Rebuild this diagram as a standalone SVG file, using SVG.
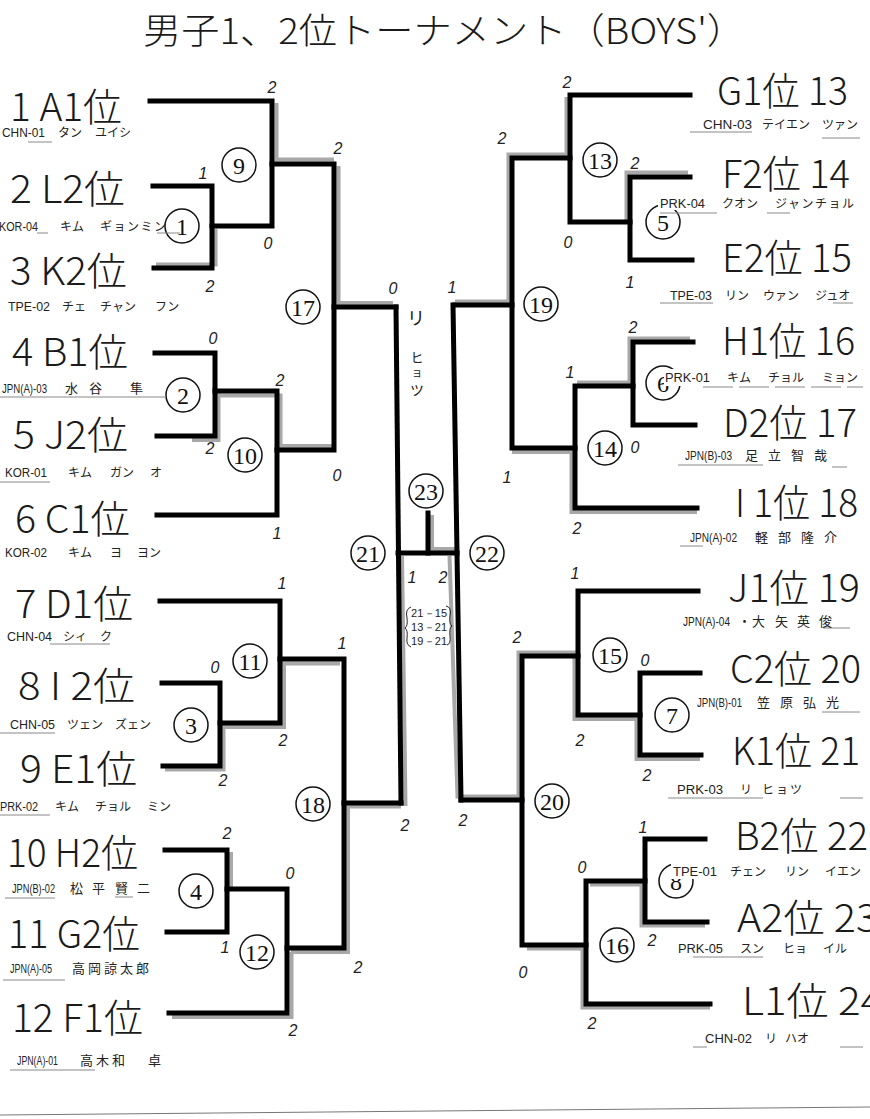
<svg xmlns="http://www.w3.org/2000/svg" width="870" height="1119" viewBox="0 0 870 1119">
<style>
.ln{fill:none;stroke:#000;stroke-width:5;stroke-linejoin:miter;stroke-linecap:square}
.hl{fill:none;stroke:#a8a8a8;stroke-width:4}
.ul{stroke:#888;stroke-width:1}
.big{font-family:"Noto Sans CJK JP","Liberation Sans",sans-serif;font-size:39px;font-weight:300;fill:#1a1a1a}
.code{font-family:"Liberation Sans","Noto Sans CJK JP",sans-serif;font-size:12.5px;fill:#222}
.nm{font-family:"Noto Sans CJK JP",sans-serif;font-size:12px;fill:#222}
.kj{font-family:"Noto Sans CJK JP",sans-serif;font-size:13px;fill:#222}
.cn circle{fill:none;stroke:#111;stroke-width:1.5}
.cn text{font-family:"Liberation Serif",serif;font-size:24px;text-anchor:middle;fill:#111}
.sc{font-family:"Liberation Sans",sans-serif;font-style:italic;font-size:16px;fill:#222;text-anchor:middle}
.sm{font-family:"Liberation Sans",sans-serif;font-size:11px;fill:#222}
.wh{fill:#fff}
</style>
<rect width="870" height="1119" fill="#fff"/>
<g id="title"><text x="143" y="44" textLength="602" lengthAdjust="spacingAndGlyphs" style="font-family:'Noto Sans CJK JP',sans-serif;font-size:36px;font-weight:300;fill:#1a1a1a">男子1、2位トーナメント（BOYS'）</text></g>

<g id="connectors">
<g id="highlights">
<path class="hl" d="M156,264.5 H215.5 V229"/>
<path class="hl" d="M276.5,103 V159.5 H334"/>
<path class="hl" d="M338.5,166 V303 H393"/>
<path class="hl" d="M192,440 H218.5 V393"/>
<path class="hl" d="M218,395.5 H280.5 V446 H334"/>
<path class="hl" d="M165,769.5 H223.5 V725"/>
<path class="hl" d="M224,727 H284 V663.5 H340"/>
<path class="hl" d="M291,952 H348 V806.5 H401"/>
<path class="hl" d="M231,852 V887"/>
<path class="hl" d="M172,1017 H291.5 V952"/>
<path class="hl" d="M402,556 L405.5,806"/>
<path class="hl" d="M449.5,556 L457.5,796.5 H518.5 V652.5 H576"/>
<path class="hl" d="M574.5,658 V719 H636.5 V759 H700"/>
<path class="hl" d="M432,515 V549 H455"/>
<path class="hl" d="M566.5,97 V154.5 H508.5 V301.5 H455"/>
<path class="hl" d="M688,172.5 H626.5 V220"/>
<path class="hl" d="M690,338.5 H629.5 V382.5 H577"/>
<path class="hl" d="M697,512 H571.5 V452 H512"/>
<path class="hl" d="M705,925.5 H641.5 V884.5 H590"/>
<path class="hl" d="M710,1007.5 H582.5 V948.5 H527"/>
</g>
<g id="lines">
<path class="ln" d="M150,101 H272 V226 H212"/>
<path class="ln" d="M153,186 H212 V268 H154"/>
<path class="ln" d="M272,164 H334 V450 H277"/>
<path class="ln" d="M155,353 H215 V436 H157"/>
<path class="ln" d="M215,391 H277 V515 H157"/>
<path class="ln" d="M334,307 H396"/>
<path class="ln" d="M160,601 H280 V723 H220"/>
<path class="ln" d="M162,683 H220 V766 H163"/>
<path class="ln" d="M280,659 H344 V948 H287"/>
<path class="ln" d="M165,850 H227 V932 H167"/>
<path class="ln" d="M227,889 H287 V1013 H169"/>
<path class="ln" d="M344,803 H401"/>
<path class="ln" d="M396,307 L401,803"/>
<path class="ln" d="M398,553 H457"/>
<path class="ln" d="M428,513 V553"/>
<path class="ln" d="M453,305 L461,800"/>
<path class="ln" d="M690,95 H570 V222 H630"/>
<path class="ln" d="M690,177 H630 V260 H692"/>
<path class="ln" d="M570,158 H512 V448 H575"/>
<path class="ln" d="M512,305 H455"/>
<path class="ln" d="M693,342 H633 V425 H695"/>
<path class="ln" d="M633,386 H575 V508 H697"/>
<path class="ln" d="M698,591 H578 V715 H640"/>
<path class="ln" d="M700,673 H640 V755 H701"/>
<path class="ln" d="M578,656 H522 V945 H586"/>
<path class="ln" d="M522,800 H461"/>
<path class="ln" d="M705,839 H645 V922 H707"/>
<path class="ln" d="M645,881 H586 V1004 H710"/>
</g>
</g>

<g id="matches" class="cn">
<g id="m1"><circle cx="182" cy="226" r="17"/><text x="182" y="234.5">1</text></g>
<g id="m2"><circle cx="183" cy="395" r="17"/><text x="183" y="403.5">2</text></g>
<g id="m3"><circle cx="191" cy="725" r="17"/><text x="191" y="733.5">3</text></g>
<g id="m4"><circle cx="196" cy="891" r="17"/><text x="196" y="899.5">4</text></g>
<g id="m5"><circle cx="663" cy="222" r="17"/><text x="663" y="230.5">5</text></g>
<g id="m6"><circle cx="663" cy="383" r="17"/><text x="663" y="391.5">6</text></g>
<g id="m7"><circle cx="672" cy="715" r="17"/><text x="672" y="723.5">7</text></g>
<g id="m8"><circle cx="676" cy="881" r="17"/><text x="676" y="889.5">8</text></g>
<g id="m9"><circle cx="239" cy="165" r="17"/><text x="239" y="173.5">9</text></g>
<g id="m10"><circle cx="245" cy="455" r="17"/><text x="245" y="463.5">10</text></g>
<g id="m11"><circle cx="250" cy="661" r="17"/><text x="250" y="669.5">11</text></g>
<g id="m12"><circle cx="257" cy="952" r="17"/><text x="257" y="960.5">12</text></g>
<g id="m13"><circle cx="600" cy="160" r="17"/><text x="600" y="168.5">13</text></g>
<g id="m14"><circle cx="605" cy="448" r="17"/><text x="605" y="456.5">14</text></g>
<g id="m15"><circle cx="610" cy="655" r="17"/><text x="610" y="663.5">15</text></g>
<g id="m16"><circle cx="617" cy="945" r="17"/><text x="617" y="953.5">16</text></g>
<g id="m17"><circle cx="303" cy="307" r="17"/><text x="303" y="315.5">17</text></g>
<g id="m18"><circle cx="313" cy="804" r="17"/><text x="313" y="812.5">18</text></g>
<g id="m19"><circle cx="541" cy="304" r="17"/><text x="541" y="312.5">19</text></g>
<g id="m20"><circle cx="552" cy="801" r="17"/><text x="552" y="809.5">20</text></g>
<g id="m21"><circle cx="368" cy="553" r="17"/><text x="368" y="561.5">21</text></g>
<g id="m22"><circle cx="487" cy="553" r="17"/><text x="487" y="561.5">22</text></g>
<g id="m23"><circle cx="426" cy="491" r="17"/><text x="426" y="499.5">23</text></g>
</g>

<g id="scores" class="sc">
<text x="272" y="93">2</text><text x="203" y="179">1</text><text x="268" y="249">0</text><text x="210" y="292">2</text>
<text x="338" y="154">2</text><text x="393" y="294">0</text><text x="213" y="344">0</text><text x="280" y="386">2</text>
<text x="210" y="454">2</text><text x="337" y="481">0</text><text x="277" y="539">1</text><text x="282" y="589">1</text>
<text x="215" y="673">0</text><text x="283" y="746">2</text><text x="342" y="649">1</text><text x="223" y="786">2</text>
<text x="405" y="831">2</text><text x="227" y="839">2</text><text x="290" y="879">0</text><text x="225" y="953">1</text>
<text x="358" y="973">2</text><text x="293" y="1036">2</text>
<text x="412" y="583">1</text><text x="443" y="583">2</text>
<text x="567" y="88">2</text><text x="502" y="144">2</text><text x="635" y="169">2</text><text x="568" y="248">0</text>
<text x="630" y="288">1</text><text x="452" y="293">1</text><text x="633" y="333">2</text><text x="570" y="378">1</text>
<text x="635" y="453">0</text><text x="507" y="483">1</text><text x="577" y="534">2</text><text x="575" y="579">1</text>
<text x="517" y="643">2</text><text x="645" y="666">0</text><text x="580" y="746">2</text><text x="647" y="781">2</text>
<text x="463" y="826">2</text><text x="643" y="833">1</text><text x="582" y="873">0</text><text x="652" y="946">2</text>
<text x="523" y="978">0</text><text x="592" y="1029">2</text>
</g>
<g id="final-detail">
<text class="sm" x="411" y="617" textLength="36">21－15</text>
<text class="sm" x="411" y="631" textLength="36">13－21</text>
<text class="sm" x="411" y="645" textLength="36">19－21</text>
<path d="M411,607 Q405,609 407,618 Q408,626 405,628 Q408,630 407,638 Q406,645 411,647" fill="none" stroke="#222" stroke-width="1"/>
<path d="M446,606 Q452,607 450,616 Q449,624 452,626 Q449,628 450,636 Q451,644 447,645" fill="none" stroke="#222" stroke-width="1"/>
<g style="font-family:'Noto Sans CJK JP',sans-serif;fill:#222;text-anchor:middle">
<text x="416" y="325" font-size="18">リ</text>
<text x="417" y="362" font-size="13">ヒ</text>
<text x="417" y="377" font-size="11">ョ</text>
<text x="417" y="395" font-size="14">ツ</text>
</g>
</g>

<g id="underlines">
<line class="ul" x1="28" y1="142" x2="52" y2="142"/><line class="ul" x1="37" y1="233" x2="48" y2="233"/><line class="ul" x1="157" y1="233" x2="180" y2="233"/>
<line class="ul" x1="0" y1="397" x2="166" y2="397"/><line class="ul" x1="0" y1="482" x2="50" y2="482"/><line class="ul" x1="50" y1="644" x2="110" y2="644"/>
<line class="ul" x1="0" y1="733" x2="55" y2="733"/><line class="ul" x1="0" y1="815" x2="50" y2="815"/><line class="ul" x1="5" y1="898" x2="55" y2="898"/>
<line class="ul" x1="115" y1="897" x2="133" y2="897"/><line class="ul" x1="3" y1="980" x2="65" y2="980"/><line class="ul" x1="10" y1="1070" x2="95" y2="1070"/>
<line class="ul" x1="690" y1="132" x2="752" y2="132"/><line class="ul" x1="822" y1="138" x2="860" y2="138"/><line class="ul" x1="660" y1="213" x2="717" y2="213"/>
<line class="ul" x1="767" y1="213" x2="790" y2="213"/><line class="ul" x1="660" y1="303" x2="713" y2="303"/><line class="ul" x1="833" y1="303" x2="853" y2="303"/>
<line class="ul" x1="703" y1="387" x2="863" y2="387" stroke-dasharray="30 6"/><line class="ul" x1="678" y1="465" x2="763" y2="465"/><line class="ul" x1="832" y1="467" x2="847" y2="467"/>
<line class="ul" x1="680" y1="546" x2="703" y2="546"/><line class="ul" x1="823" y1="628" x2="850" y2="628"/><line class="ul" x1="822" y1="712" x2="860" y2="712"/>
<line class="ul" x1="668" y1="798" x2="763" y2="798"/><line class="ul" x1="840" y1="798" x2="863" y2="798"/><line class="ul" x1="823" y1="878" x2="857" y2="878"/>
<line class="ul" x1="693" y1="957" x2="763" y2="957"/><line class="ul" x1="693" y1="1047" x2="707" y2="1047"/><line class="ul" x1="840" y1="1047" x2="863" y2="1047"/>
<line x1="0" y1="1115" x2="870" y2="1107" stroke="#777" stroke-width="1"/>
</g>

<g id="players">
<g id="p1"><text class="big" x="10" y="121" textLength="112" lengthAdjust="spacingAndGlyphs">1 A1位</text><text class="code" x="2" y="137" textLength="43" lengthAdjust="spacingAndGlyphs">CHN-01</text><text class="nm" y="137"><tspan x="58">タン</tspan><tspan x="95">ユイシ</tspan></text></g>
<g id="p2"><text class="big" x="10" y="203" textLength="115" lengthAdjust="spacingAndGlyphs">2 L2位</text><text class="code" x="-1" y="231" textLength="39" lengthAdjust="spacingAndGlyphs">KOR-04</text><text class="nm" y="231"><tspan x="60">キム</tspan><tspan x="100" letter-spacing="1.5">ギョンミン</tspan></text></g>
<g id="p3"><text class="big" x="10" y="285" textLength="117" lengthAdjust="spacingAndGlyphs">3 K2位</text><text class="code" x="8" y="311" textLength="42" lengthAdjust="spacingAndGlyphs">TPE-02</text><text class="nm" y="311"><tspan x="62">チェ</tspan><tspan x="100">チャン</tspan><tspan x="155">フン</tspan></text></g>
<g id="p4"><text class="big" x="12" y="366" textLength="116" lengthAdjust="spacingAndGlyphs">4 B1位</text><text class="code" x="2" y="393" textLength="45" lengthAdjust="spacingAndGlyphs">JPN(A)-03</text><text class="kj" y="393"><tspan x="65">水</tspan><tspan x="89">谷</tspan><tspan x="130">隼</tspan></text></g>
<g id="p5"><text class="big" x="13" y="449" textLength="115" lengthAdjust="spacingAndGlyphs">5 J2位</text><text class="code" x="5" y="477" textLength="42" lengthAdjust="spacingAndGlyphs">KOR-01</text><text class="nm" y="477"><tspan x="68">キム</tspan><tspan x="110">ガン</tspan><tspan x="150">オ</tspan></text></g>
<g id="p6"><text class="big" x="15" y="533" textLength="115" lengthAdjust="spacingAndGlyphs">6 C1位</text><text class="code" x="5" y="557" textLength="42" lengthAdjust="spacingAndGlyphs">KOR-02</text><text class="nm" y="557"><tspan x="68">キム</tspan><tspan x="110">ヨ</tspan><tspan x="137">ヨン</tspan></text></g>
<g id="p7"><text class="big" x="15" y="618" textLength="118" lengthAdjust="spacingAndGlyphs">7 D1位</text><text class="code" x="7" y="641" textLength="45" lengthAdjust="spacingAndGlyphs">CHN-04</text><text class="nm" y="641"><tspan x="63">シィ</tspan><tspan x="100">ク</tspan></text></g>
<g id="p8"><text class="big" x="18" y="700" textLength="117" lengthAdjust="spacingAndGlyphs">8 I 2位</text><text class="code" x="10" y="729" textLength="45" lengthAdjust="spacingAndGlyphs">CHN-05</text><text class="nm" y="729"><tspan x="67">ツェン</tspan><tspan x="115">ズェン</tspan></text></g>
<g id="p9"><text class="big" x="20" y="783" textLength="117" lengthAdjust="spacingAndGlyphs">9 E1位</text><text class="code" x="0" y="811" textLength="38" lengthAdjust="spacingAndGlyphs">PRK-02</text><text class="nm" y="811"><tspan x="55">キム</tspan><tspan x="95">チョル</tspan><tspan x="147">ミン</tspan></text></g>
<g id="p10"><text class="big" x="7" y="867" textLength="131" lengthAdjust="spacingAndGlyphs">10 H2位</text><text class="code" x="12" y="893" textLength="43" lengthAdjust="spacingAndGlyphs">JPN(B)-02</text><text class="kj" y="893"><tspan x="70">松</tspan><tspan x="92">平</tspan><tspan x="115">賢</tspan><tspan x="137">二</tspan></text></g>
<g id="p11"><text class="big" x="8" y="948" textLength="132" lengthAdjust="spacingAndGlyphs">11 G2位</text><text class="code" x="10" y="973" textLength="42" lengthAdjust="spacingAndGlyphs">JPN(A)-05</text><text class="kj" x="72" y="973" letter-spacing="3">高岡諒太郎</text></g>
<g id="p12"><text class="big" x="12" y="1032" textLength="131" lengthAdjust="spacingAndGlyphs">12 F1位</text><text class="code" x="17" y="1065" textLength="41" lengthAdjust="spacingAndGlyphs">JPN(A)-01</text><text class="kj" y="1065"><tspan x="80" letter-spacing="3">高木和</tspan><tspan x="148">卓</tspan></text></g>

<g id="p13"><text class="big" x="717" y="105" textLength="131" lengthAdjust="spacingAndGlyphs">G1位 13</text><text class="code" x="703" y="129" textLength="49" lengthAdjust="spacingAndGlyphs">CHN-03</text><text class="nm" y="129"><tspan x="762">テイエン</tspan><tspan x="822">ツァン</tspan></text></g>
<g id="p14"><rect class="wh" x="658" y="196" width="202" height="14"/><text class="big" x="722" y="188" textLength="128" lengthAdjust="spacingAndGlyphs">F2位 14</text><text class="code" x="660" y="208" textLength="45" lengthAdjust="spacingAndGlyphs">PRK-04</text><text class="nm" y="208"><tspan x="722">クオン</tspan><tspan x="775" letter-spacing="1.5">ジャンチョル</tspan></text></g>
<g id="p15"><text class="big" x="722" y="272" textLength="130" lengthAdjust="spacingAndGlyphs">E2位 15</text><text class="code" x="670" y="300" textLength="42" lengthAdjust="spacingAndGlyphs">TPE-03</text><text class="nm" y="300"><tspan x="725">リン</tspan><tspan x="763">ウァン</tspan><tspan x="815">ジュオ</tspan></text></g>
<g id="p16"><rect class="wh" x="664" y="369" width="200" height="17"/><text class="big" x="722" y="355" textLength="133" lengthAdjust="spacingAndGlyphs">H1位 16</text><text class="code" x="665" y="382" textLength="45" lengthAdjust="spacingAndGlyphs">PRK-01</text><text class="nm" y="382"><tspan x="727">キム</tspan><tspan x="768">チョル</tspan><tspan x="822">ミョン</tspan></text></g>
<g id="p17"><text class="big" x="723" y="437" textLength="134" lengthAdjust="spacingAndGlyphs">D2位 17</text><text class="code" x="685" y="460" textLength="47" lengthAdjust="spacingAndGlyphs">JPN(B)-03</text><text class="kj" y="460"><tspan x="745">足</tspan><tspan x="768">立</tspan><tspan x="791">智</tspan><tspan x="814">哉</tspan></text></g>
<g id="p18"><text class="big" x="735" y="517" textLength="123" lengthAdjust="spacingAndGlyphs">I 1位 18</text><text class="code" x="690" y="542" textLength="47" lengthAdjust="spacingAndGlyphs">JPN(A)-02</text><text class="kj" y="542"><tspan x="755">軽</tspan><tspan x="778">部</tspan><tspan x="801">隆</tspan><tspan x="824">介</tspan></text></g>
<g id="p19"><text class="big" x="728" y="602" textLength="132" lengthAdjust="spacingAndGlyphs">J1位 19</text><text class="code" x="683" y="626" textLength="47" lengthAdjust="spacingAndGlyphs">JPN(A)-04</text><text class="kj" y="626"><tspan x="738">・</tspan><tspan x="752">大</tspan><tspan x="775">矢</tspan><tspan x="797">英</tspan><tspan x="819">俊</tspan></text></g>
<g id="p20"><text class="big" x="730" y="683" textLength="131" lengthAdjust="spacingAndGlyphs">C2位 20</text><text class="code" x="697" y="707" textLength="45" lengthAdjust="spacingAndGlyphs">JPN(B)-01</text><text class="kj" y="707"><tspan x="757">笠</tspan><tspan x="780">原</tspan><tspan x="803">弘</tspan><tspan x="826">光</tspan></text></g>
<g id="p21"><text class="big" x="732" y="765" textLength="128" lengthAdjust="spacingAndGlyphs">K1位 21</text><text class="code" x="677" y="794" textLength="46" lengthAdjust="spacingAndGlyphs">PRK-03</text><text class="nm" y="794"><tspan x="740">リ</tspan><tspan x="762" letter-spacing="2">ヒョツ</tspan></text></g>
<g id="p22"><rect class="wh" x="671" y="863" width="199" height="16"/><text class="big" x="735" y="850" textLength="133" lengthAdjust="spacingAndGlyphs">B2位 22</text><text class="code" x="673" y="876" textLength="44" lengthAdjust="spacingAndGlyphs">TPE-01</text><text class="nm" y="876"><tspan x="730">チェン</tspan><tspan x="785">リン</tspan><tspan x="825">イエン</tspan></text></g>
<g id="p23"><text class="big" x="737" y="932" textLength="141" lengthAdjust="spacingAndGlyphs">A2位 23</text><text class="code" x="678" y="953" textLength="45" lengthAdjust="spacingAndGlyphs">PRK-05</text><text class="nm" y="953"><tspan x="740">スン</tspan><tspan x="783">ヒョ</tspan><tspan x="823">イル</tspan></text></g>
<g id="p24"><text class="big" x="742" y="1015" textLength="141" lengthAdjust="spacingAndGlyphs">L1位 24</text><text class="code" x="705" y="1043" textLength="47" lengthAdjust="spacingAndGlyphs">CHN-02</text><text class="nm" y="1043"><tspan x="765">リ</tspan><tspan x="785">ハオ</tspan></text></g>
</g>
</svg>
